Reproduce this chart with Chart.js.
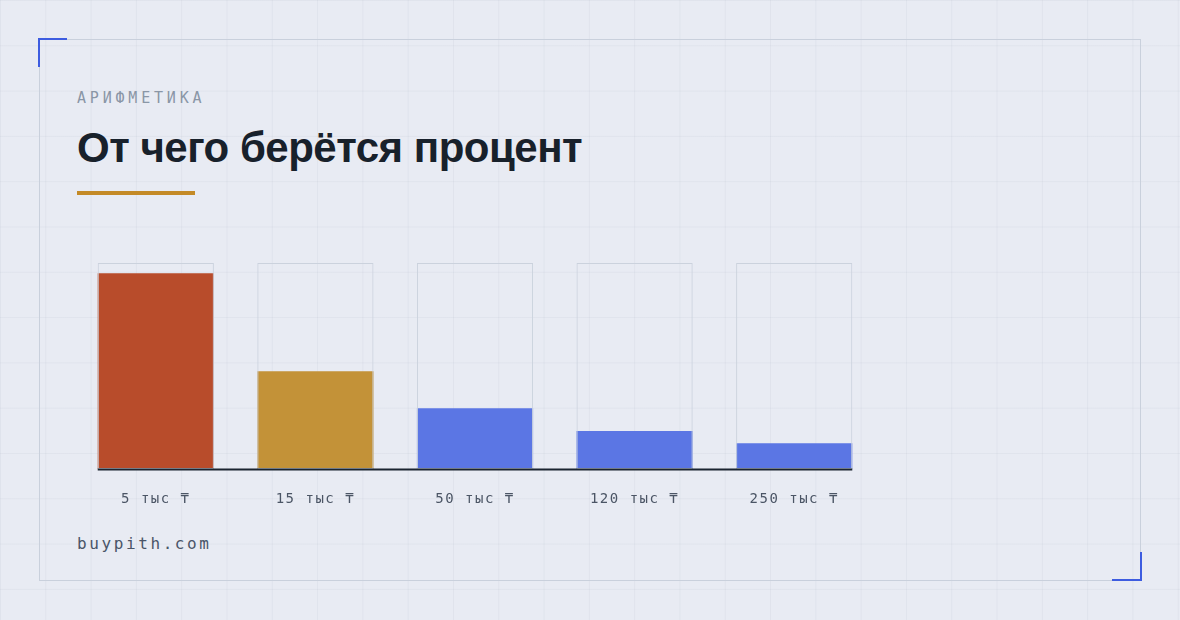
<!DOCTYPE html>
<html lang="ru">
<head>
<meta charset="utf-8">
<script src="https://cdn.jsdelivr.net/npm/chart.js@4.4.1/dist/chart.umd.min.js"></script>
<style>
  html, body { margin: 0; padding: 0; }
  body {
    width: 1180px; height: 620px; position: relative; overflow: hidden;
    background-color: #e8ebf3;
    background-image:
      linear-gradient(to right, rgba(150,160,178,0.10) 1px, transparent 1px),
      linear-gradient(to bottom, rgba(150,160,178,0.10) 1px, transparent 1px);
    background-size: 45.3px 45.3px;
  }
  .frame { position: absolute; left: 39px; top: 39px; width: 1100px; height: 540px; border: 1px solid #c9d0dc; }
  .acc { position: absolute; background: #3d5ce0; }
  .txt { position: absolute; white-space: nowrap; line-height: 1; }
  .kicker { left: 77px; top: 89px; font: 15px "DejaVu Sans Mono", monospace; letter-spacing: 3.8px; color: #8a96a6; }
  .title { left: 77px; top: 124px; font: bold 42px "Liberation Sans", Arial, sans-serif; color: #18212b; letter-spacing: -0.5px; }
  .rule { position: absolute; left: 77px; top: 191px; width: 118px; height: 4px; background: #c48a26; }
  .foot { left: 77px; top: 534px; font: 16px "DejaVu Sans Mono", monospace; letter-spacing: 2.6px; color: #4a5568; }
  #wrap { position: absolute; left: 76px; top: 250px; width: 798px; height: 264px; }
</style>
</head>
<body>
<div class="frame"></div>
<div class="acc" style="left:38px;top:38px;width:29px;height:2px"></div>
<div class="acc" style="left:38px;top:38px;width:2px;height:29px"></div>
<div class="acc" style="left:1112px;top:579px;width:30px;height:2px"></div>
<div class="acc" style="left:1140px;top:552px;width:2px;height:29px"></div>

<div class="txt kicker">АРИФМЕТИКА</div>
<div class="txt title">От чего берётся процент</div>
<div class="rule"></div>
<div class="txt foot">buypith.com</div>

<div id="wrap"><canvas id="c"></canvas></div>

<script>
const categories = ['5 тыс ₸', '15 тыс ₸', '50 тыс ₸', '120 тыс ₸', '250 тыс ₸'];
const shareValues = [95, 47.5, 29.5, 18.5, 12.5];
const trackValues = [100, 100, 100, 100, 100];
const barColors = ['#b84c2b', '#c39238', '#5b76e4', '#5b76e4', '#5b76e4'];

const baselinePlugin = {
  id: 'baseline',
  beforeDraw(chart) { chart.ctx.letterSpacing = '1.5px'; },
  afterDatasetsDraw(chart) {
    const meta = chart.getDatasetMeta(1);
    const first = meta.data[0], last = meta.data[meta.data.length - 1];
    const x0 = first.x - first.width / 2;
    const x1 = last.x + last.width / 2;
    const y = chart.scales.y.getPixelForValue(0);
    const ctx = chart.ctx;
    ctx.save();
    ctx.fillStyle = '#1b2430';
    ctx.fillRect(x0, y - 0.5, x1 - x0, 2);
    ctx.restore();
  }
};

new Chart(document.getElementById('c'), {
  type: 'bar',
  data: {
    labels: categories,
    datasets: [
      {
        label: 'track',
        data: trackValues,
        backgroundColor: 'rgba(0,0,0,0)',
        borderColor: '#cbd2dd',
        borderWidth: 1,
        borderSkipped: false,
        order: 0
      },
      {
        label: 'share',
        data: shareValues,
        backgroundColor: barColors,
        borderWidth: 0,
        order: 1
      }
    ]
  },
  options: {
    responsive: true,
    maintainAspectRatio: false,
    animation: false,
    layout: { padding: { top: 13, left: 0, right: 0, bottom: 0 } },
    datasets: { bar: { grouped: false, categoryPercentage: 1, barPercentage: 0.728 } },
    plugins: { legend: { display: false }, tooltip: { enabled: false } },
    scales: {
      x: {
        grid: { display: false, drawTicks: false },
        border: { display: false },
        ticks: {
          color: '#4b5565',
          font: { family: 'DejaVu Sans Mono', size: 14 },
          padding: 22,
          maxRotation: 0
        },
        afterFit(s) { s.height = 45; }
      },
      y: { display: false, min: 0, max: 100 }
    }
  },
  plugins: [baselinePlugin]
});
</script>
</body>
</html>
